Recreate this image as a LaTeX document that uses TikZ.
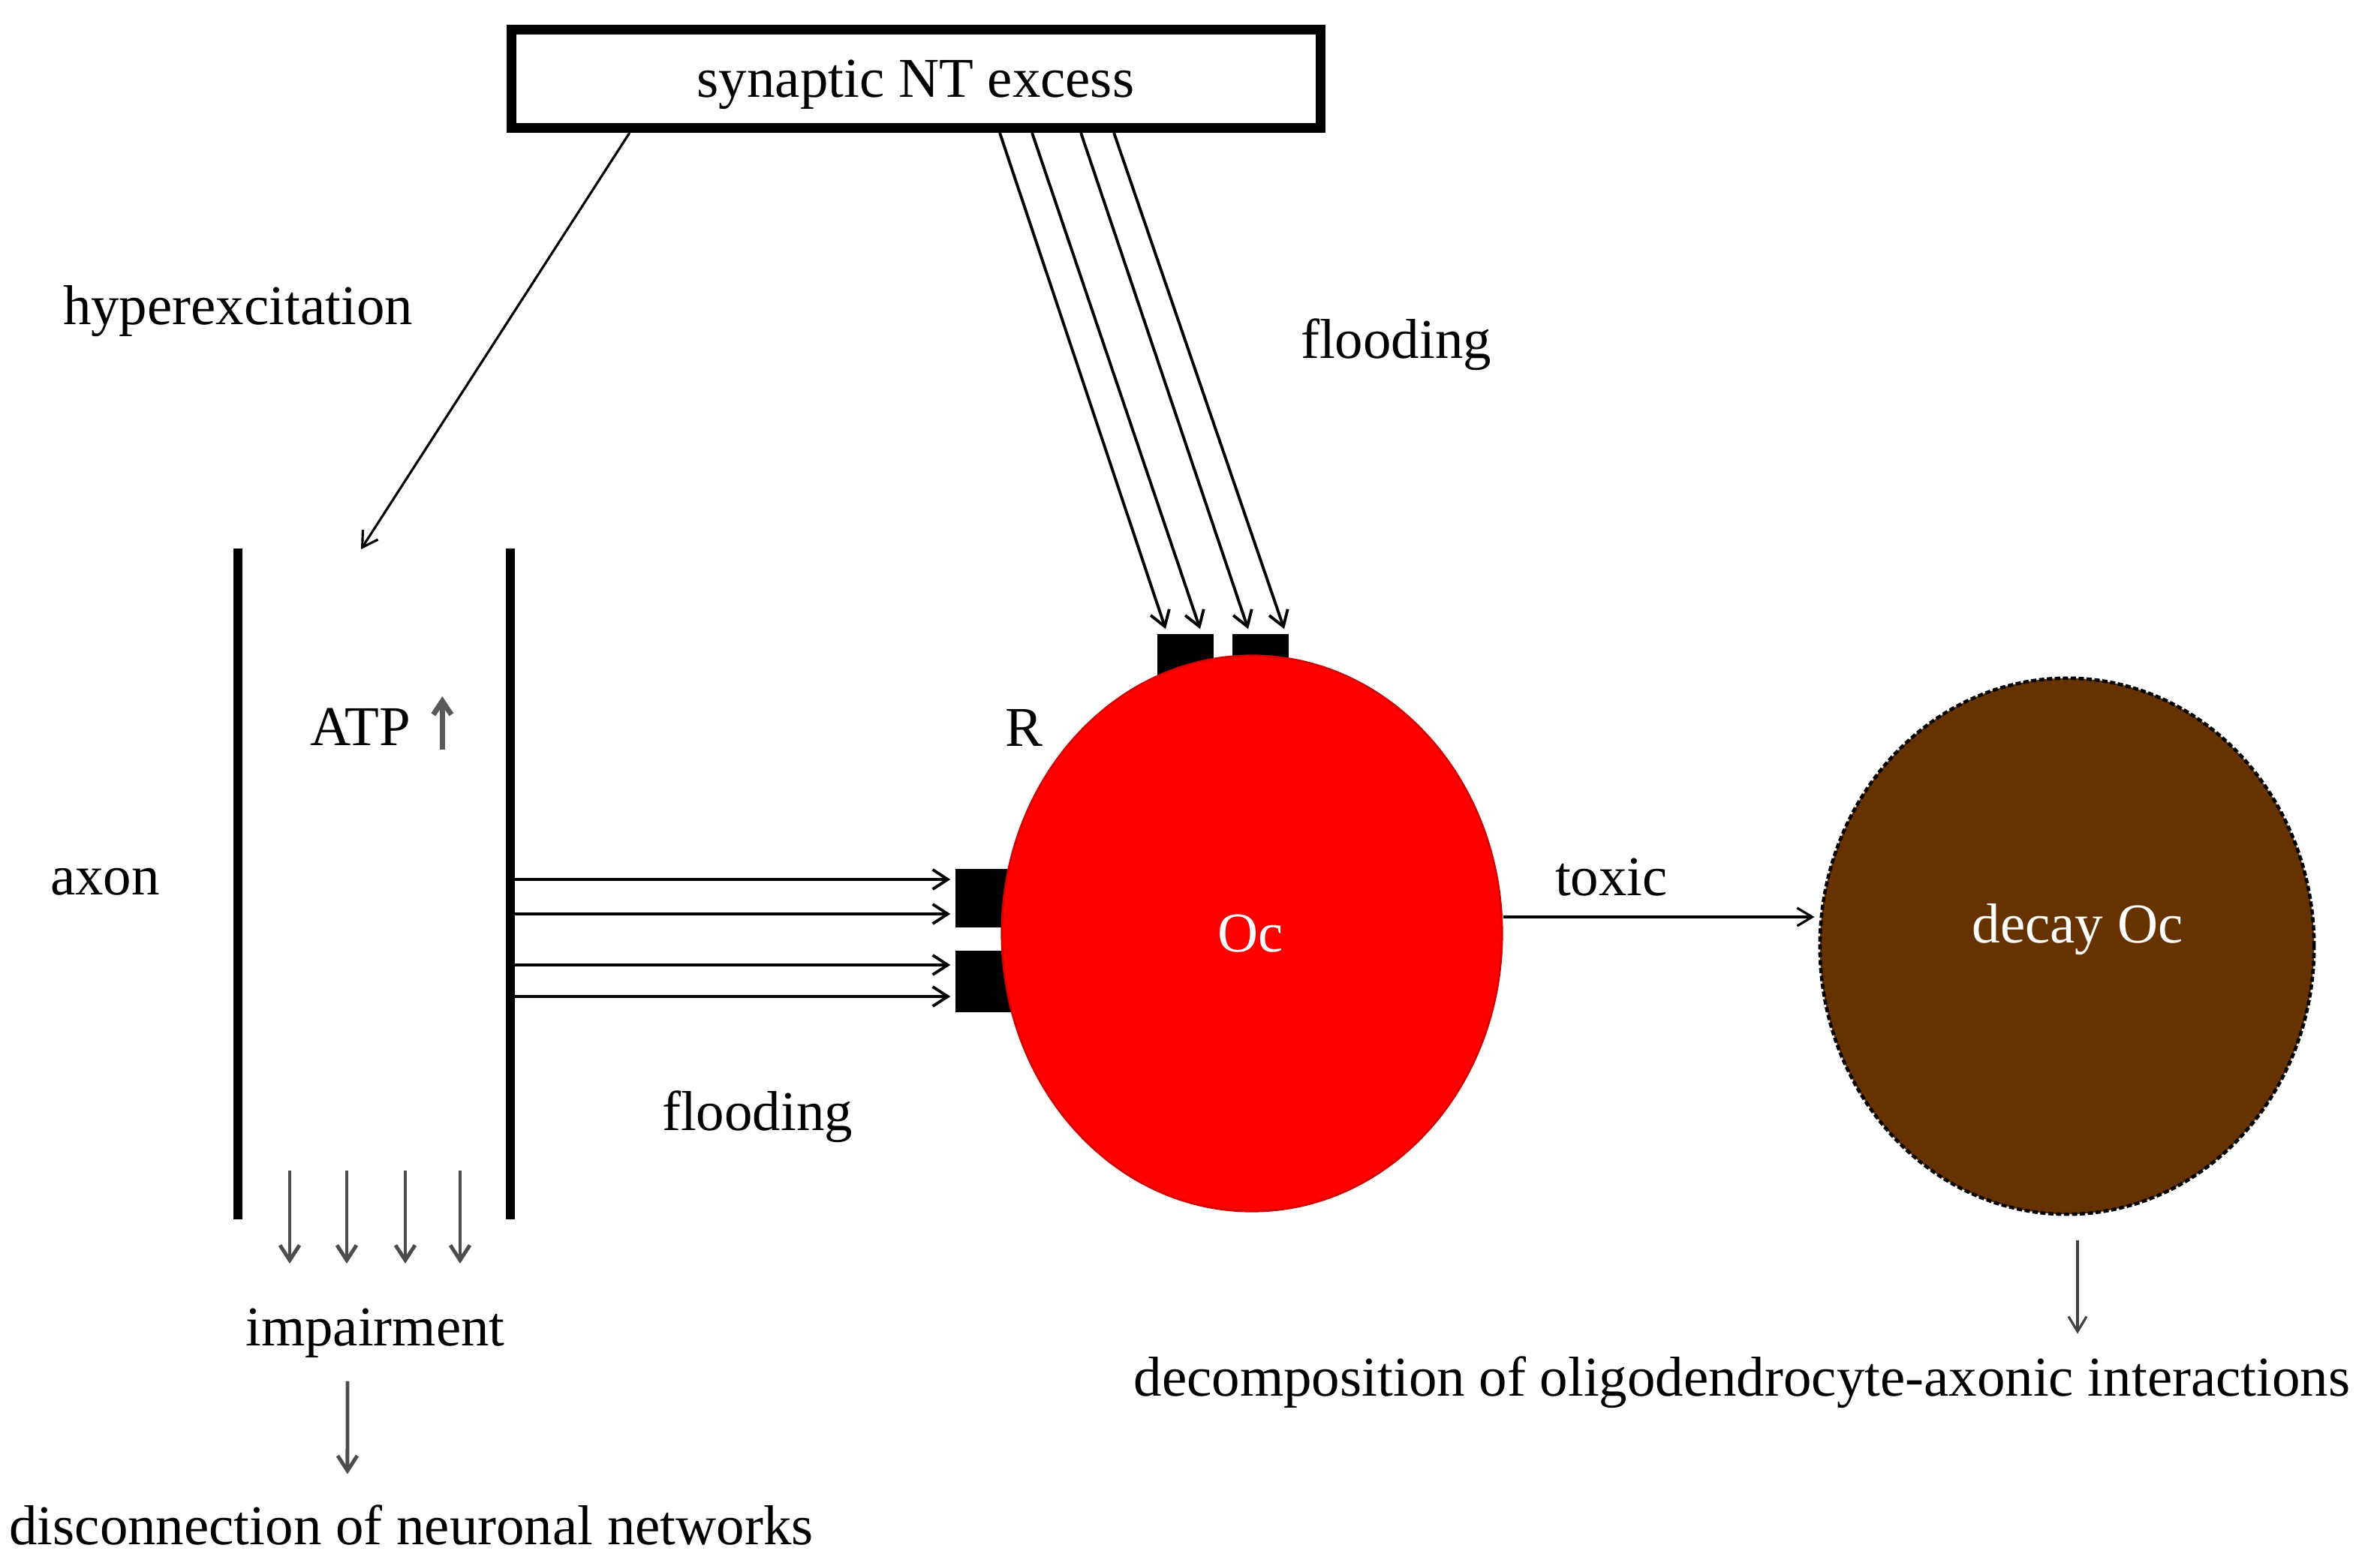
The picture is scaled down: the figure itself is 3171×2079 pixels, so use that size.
\documentclass[tikz,border=0pt]{standalone}
\usepackage{fontspec}
\setmainfont{Liberation Serif}
\usetikzlibrary{arrows.meta,shapes.geometric,calc}
\definecolor{brownc}{HTML}{663300}
\begin{document}
\begin{tikzpicture}[x=0.01cm,y=-0.01cm,
  lbl/.style={anchor=base,inner sep=0,font=\fontsize{21.3}{25}\selectfont},
  rec/.style={fill=black,draw=none,inner sep=0,minimum width=0.75cm},
  arr/.style={line width=1.1pt,-{Straight Barb[length=0.2cm,width=0.26cm]}},
  thinarr/.style={line width=0.9pt,-{Straight Barb[length=0.2cm,width=0.24cm]}},
  grayarr/.style={line width=1.4pt,draw=black!70,-{Straight Barb[length=0.2cm,width=0.26cm]}},
  axonline/.style={line width=0.12cm}
]
\fill[white] (0,0) rectangle (3171,2079);
\useasboundingbox (0,0) rectangle (3171,2079);

% top box
\node[draw,line width=0.13cm,minimum width=10.78cm,minimum height=1.31cm,inner sep=0] (box) at (1220.5,105) {};
\node[lbl] (nt) at (1220,130) {synaptic NT excess};

% axon
\coordinate (axLt) at (317,731); \coordinate (axLb) at (317,1625);
\coordinate (axRt) at (680,731); \coordinate (axRb) at (680,1625);
\draw[axonline] (axLt) -- (axLb);
\draw[axonline] (axRt) -- (axRb);
\coordinate (axR) at (686,1200);

% receptors
\node[rec,minimum height=0.64cm] (r1) at (1579.5,877) {};
\node[rec,minimum height=0.64cm] (r2) at (1679.5,877) {};
\node[rec,minimum height=0.78cm,minimum width=0.78cm] (l1) at (1312,1197) {};
\node[rec,minimum height=0.82cm,minimum width=0.78cm] (l2) at (1312,1308) {};

% cells
\node[ellipse,fill=red,draw=red!85!black,line width=0.8pt,minimum width=6.66cm,minimum height=7.4cm,inner sep=0] (oc) at (1668,1244) {};
\node[ellipse,fill=brownc,draw=black,dash pattern=on 2pt off 1pt,line width=1.3pt,minimum width=6.58cm,minimum height=7.14cm,inner sep=0] (decay) at (2754,1261) {};

% labels
\node[lbl] (hyp) at (317,433) {hyperexcitation};
\node[lbl] (fl1) at (1860,478) {flooding};
\node[lbl] (axon) at (140,1192) {axon};
\node[lbl] (R) at (1364,994) {R};
\node[lbl] (atp) at (480,993) {ATP};
\node[lbl,text=white] (octx) at (1666,1268) {Oc};
\node[lbl] (tox) at (2147,1193) {toxic};
\node[lbl,text=white] (dec) at (2768,1256) {decay Oc};
\node[lbl] (fl2) at (1009,1506) {flooding};
\node[lbl] (imp) at (500,1793) {impairment};
\node[lbl] (disc) at (548,2058) {disconnection of neuronal networks};
\node[lbl] (dcmp) at (2321,1860) {decomposition of oligodendrocyte-axonic interactions};

% hyperexcitation arrow
\coordinate (hyptip) at (481,732);
\draw[thinarr] ([xshift=-3.815cm]box.south) -- (hyptip);

% flooding arrows from top
\draw[arr] ([xshift=1.115cm]box.south) -- ([xshift=-0.265cm,yshift=0.06cm]r1.north);
\draw[arr] ([xshift=1.545cm]box.south) -- ([xshift=0.195cm,yshift=0.06cm]r1.north);
\draw[arr] ([xshift=2.195cm]box.south) -- ([xshift=-0.165cm,yshift=0.06cm]r2.north);
\draw[arr] ([xshift=2.635cm]box.south) -- ([xshift=0.315cm,yshift=0.06cm]r2.north);

% flooding arrows from axon
\path ([yshift=0.25cm,xshift=-0.06cm]l1.west) coordinate (h1);
\path ([yshift=-0.21cm,xshift=-0.06cm]l1.west) coordinate (h2);
\path ([yshift=0.22cm,xshift=-0.06cm]l2.west) coordinate (h3);
\path ([yshift=-0.20cm,xshift=-0.06cm]l2.west) coordinate (h4);
\foreach \h in {h1,h2,h3,h4} \draw[arr] (\h -| axR) -- (\h);

% toxic
\path ([yshift=0.22cm]oc.east) coordinate (tx0);
\path (tx0 -| decay.west) coordinate (tx1);
\draw[thinarr] (tx0) -- ([xshift=-0.05cm]tx1);

% ATP up arrow
\draw[line width=2pt,draw=black!65,-{Straight Barb[length=0.18cm,width=0.24cm]}] ([xshift=0.42cm,yshift=-0.06cm]atp.base east) -- ++(0,-71);

% impairment arrows
\foreach \x in {386,462,540,613} \draw[grayarr] (\x,1560) -- (\x,1684);
\draw[grayarr] ([xshift=-0.37cm,yshift=-0.31cm]imp.south) -- ([xshift=-0.85cm,yshift=0.40cm]disc.north);

% decay arrow
\path ([xshift=0.14cm,yshift=-0.32cm]decay.south) coordinate (d0);
\path (d0 |- dcmp.north) coordinate (d1);
\draw[thinarr,draw=black!75] (d0) -- ([yshift=0.29cm]d1);
\end{tikzpicture}
\end{document}
